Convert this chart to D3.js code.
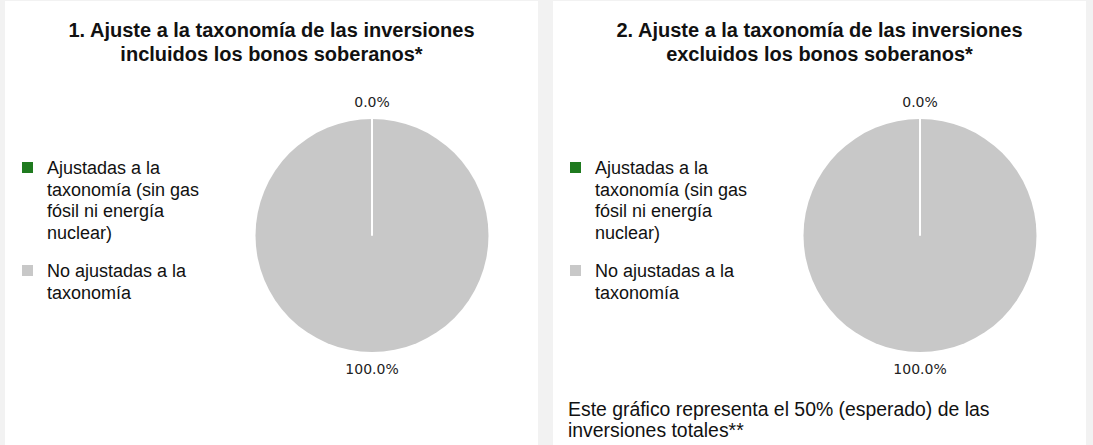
<!DOCTYPE html>
<html>
<head>
<meta charset="utf-8">
<script src="https://cdn.jsdelivr.net/npm/d3@7"></script>
<style>
  html, body { margin: 0; padding: 0; background: #f2f2f2; }
  svg { display: block; }
</style>
</head>
<body>
<div id="chart"></div>
<script>
// categories and colours
var categories = ["Ajustadas a la taxonomía (sin gas fósil ni energía nuclear)", "No ajustadas a la taxonomía"];
var legendLines = [
    ["Ajustadas a la", "taxonomía (sin gas", "fósil ni energía", "nuclear)"],
    ["No ajustadas a la", "taxonomía"]
];
var colors = ["#1f7a1f", "#c8c8c8"];

// values (%) for each chart
var valuesIncl = [0.0, 100.0];
var valuesExcl = [0.0, 100.0];

var titles = [
    ["1. Ajuste a la taxonomía de las inversiones", "incluidos los bonos soberanos*"],
    ["2. Ajuste a la taxonomía de las inversiones", "excluidos los bonos soberanos*"]
];
var footnote = ["Este gráfico representa el 50% (esperado) de las", "inversiones totales**"];

var W = 1093, H = 445;

var svg = d3.select("#chart").append("svg")
    .attr("width", W)
    .attr("height", H)
    .style("font-family", "'Liberation Sans', Arial, sans-serif");

svg.append("rect")
    .attr("width", W).attr("height", H)
    .attr("fill", "#f2f2f2");

var panels = [
    { x: 5, w: 533, values: valuesIncl, title: titles[0], note: null },
    { x: 553, w: 533, values: valuesExcl, title: titles[1], note: footnote }
];

var pie = d3.pie().sort(null).value(function(d) { return d; });
var radius = 116.5;
var arc = d3.arc().innerRadius(0).outerRadius(radius);
var labelArc = d3.arc().innerRadius(radius + 17).outerRadius(radius + 17);

panels.forEach(function(p) {
    var g = svg.append("g").attr("transform", "translate(" + p.x + ",1)");

    g.append("rect")
        .attr("width", p.w)
        .attr("height", H)
        .attr("fill", "#ffffff");

    // title
    g.append("text")
        .attr("x", p.w / 2)
        .attr("text-anchor", "middle")
        .style("font-size", "20px")
        .style("font-weight", "bold")
        .attr("fill", "#111")
        .selectAll("tspan")
        .data(p.title)
        .enter().append("tspan")
        .attr("x", p.w / 2)
        .attr("y", function(d, i) { return 36 + i * 24; })
        .text(String);

    // legend
    var legendY = [161, 264];
    var leg = g.selectAll(".legend")
        .data(categories)
        .enter().append("g")
        .attr("class", "legend")
        .attr("transform", function(d, i) { return "translate(17," + legendY[i] + ")"; });

    leg.append("rect")
        .attr("width", 11).attr("height", 11)
        .attr("fill", function(d, i) { return colors[i]; });

    leg.append("text")
        .style("font-size", "18px")
        .attr("fill", "#111")
        .selectAll("tspan")
        .data(function(d, i) { return legendLines[i]; })
        .enter().append("tspan")
        .attr("x", 25)
        .attr("y", function(d, i) { return 12 + i * 21.7; })
        .text(String);

    // pie
    var pg = g.append("g").attr("transform", "translate(367,234.5)");
    var arcs = pie(p.values);

    pg.selectAll("path")
        .data(arcs)
        .enter().append("path")
        .attr("d", arc)
        .attr("fill", function(d, i) { return colors[i]; });

    // white slice borders (also visible for a 0% slice)
    pg.selectAll(".sep")
        .data(arcs)
        .enter().append("line")
        .attr("class", "sep")
        .attr("x1", 0).attr("y1", 0)
        .attr("x2", function(d) { return radius * Math.sin(d.startAngle); })
        .attr("y2", function(d) { return -radius * Math.cos(d.startAngle); })
        .attr("stroke", "#ffffff")
        .attr("stroke-width", 2);

    pg.selectAll(".lbl")
        .data(arcs)
        .enter().append("text")
        .attr("class", "lbl")
        .attr("transform", function(d) { return "translate(" + labelArc.centroid(d) + ")"; })
        .attr("text-anchor", "middle")
        .attr("dy", "0.35em")
        .style("font-size", "14px")
        .style("font-family", "'DejaVu Sans', sans-serif")
        .attr("fill", "#222")
        .text(function(d) { return d.data.toFixed(1) + "%"; });

    // footnote
    if (p.note) {
        g.append("text")
            .style("font-size", "19.4px")
            .attr("fill", "#111")
            .selectAll("tspan")
            .data(p.note)
            .enter().append("tspan")
            .attr("x", 15)
            .attr("y", function(d, i) { return 415 + i * 21; })
            .text(String);
    }
});
</script>
</body>
</html>
